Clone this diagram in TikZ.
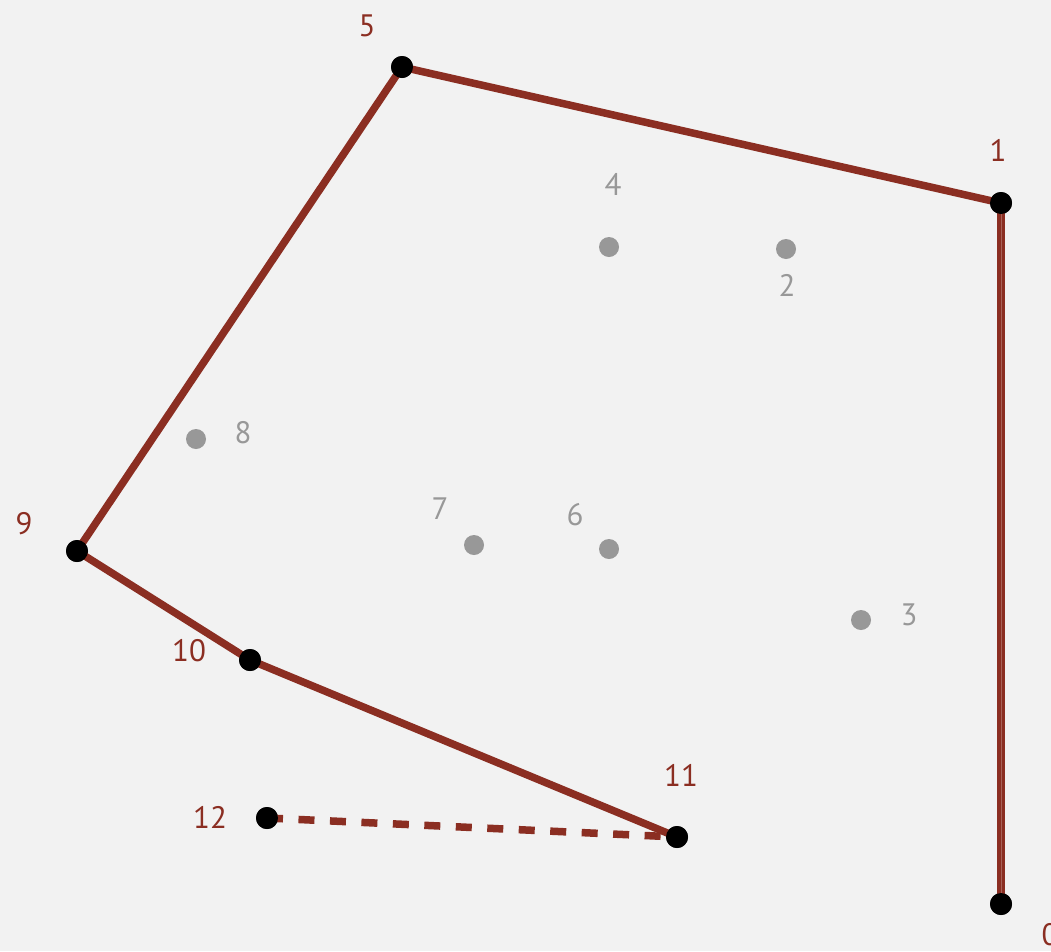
\documentclass[tikz,border=0pt]{standalone}
\usepackage{fontspec}
\setmainfont{PT Sans}
\usepackage{tikz}
\usetikzlibrary{positioning}
\definecolor{hullred}{HTML}{8B2E22}
\definecolor{ptgray}{HTML}{989898}
\definecolor{bggray}{HTML}{F2F2F2}

\begin{document}
\begin{tikzpicture}[x=1pt, y=-1pt,
    hullpt/.style={circle, fill=black, inner sep=0pt, minimum size=22pt},
    inpt/.style={circle, fill=ptgray, inner sep=0pt, minimum size=20pt},
    hlab/.style={text=hullred, font=\fontsize{31}{31}\selectfont, inner sep=0pt},
    glab/.style={text=ptgray, font=\fontsize{31}{31}\selectfont, inner sep=0pt},
    hull/.style={draw=hullred, line width=7.5pt},
    seam/.style={draw=hullred!75!white, line width=1pt},
    nexthull/.style={hull, dash pattern=on 16pt off 15.5pt}
]
\fill[bggray] (0,0) rectangle (1051,951);
\useasboundingbox (0,0) rectangle (1051,951);

% points
\node[hullpt] (p0) at (1001,904) {};
\node[hullpt] (p1) at (1001,203) {};
\node[inpt] (p2) at (786,249) {};
\node[inpt] (p3) at (861,620) {};
\node[inpt] (p4) at (609,247) {};
\node[hullpt] (p5) at (402,67) {};
\node[inpt] (p6) at (609,549) {};
\node[inpt] (p7) at (474,545) {};
\node[inpt] (p8) at (196,439) {};
\node[hullpt] (p9) at (77,551) {};
\node[hullpt] (p10) at (250,660) {};
\node[hullpt] (p11) at (677,837) {};
\node[hullpt] (p12) at (267,818) {};

% labels
\node[hlab] (l0) at (1050,935) {0};
\node[hlab] (l1) at (998,150) {1};
\node[glab] (l2) at (787,285) {2};
\node[glab] (l3) at (909,615) {3};
\node[glab] (l4) at (613,184) {4};
\node[hlab] (l5) at (367,26) {5};
\node[glab] (l6) at (575,515) {6};
\node[glab] (l7) at (440,509) {7};
\node[glab] (l8) at (243,433) {8};
\node[hlab] (l9) at (24,524) {9};
\node[hlab] (l10) at (189,651) {10};
\node[hlab] (l11) at (681,775) {11};
\node[hlab] (l12) at (210,817) {12};

% hull so far
\begin{scope}[on background layer/.style={}]
\draw[hull] (p0.center) -- (p1.center);
\draw[seam] (p0.center) -- (p1.center);
\draw[hull, line join=round] (p1.center) -- (p5.center) -- (p9.center) -- (p10.center) -- (p11.center);
\draw[nexthull] (p12.center) -- (p11.center);
\end{scope}

% dots on top
\foreach \p in {p0,p1,p5,p9,p10,p11,p12}
  \fill[black] (\p) circle (11pt);
\end{tikzpicture}
\end{document}
